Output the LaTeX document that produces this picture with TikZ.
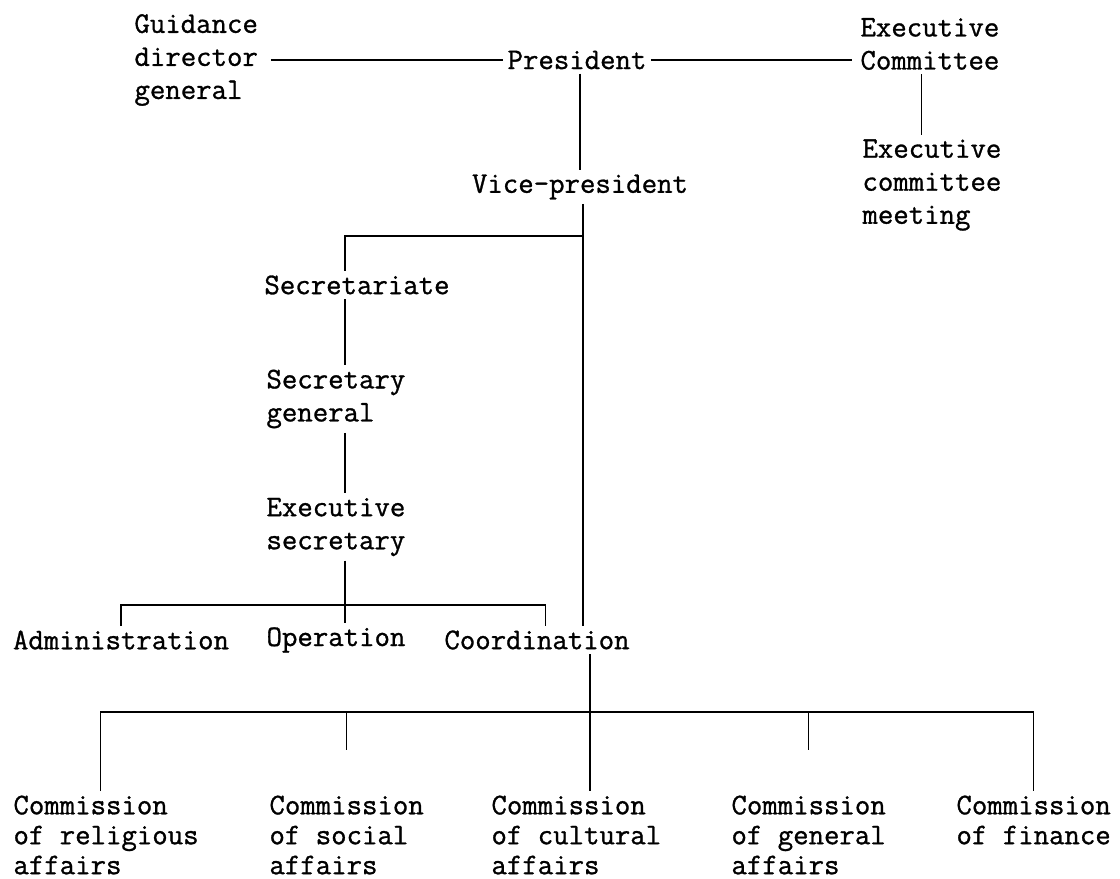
\documentclass[tikz,border=0pt]{standalone}
\usepackage{fontspec}
\setmonofont{Latin Modern Mono}[FakeBold=1]
\usepackage{tikz}
\usetikzlibrary{positioning}

\begin{document}
\begin{tikzpicture}[
    x=0.025cm, y=-0.025cm,
    post/.style={font=\ttfamily\fontsize{21.3}{23.5}\selectfont, align=left, inner sep=3pt},
    comm/.style={post, font=\ttfamily\fontsize{21.3}{21.3}\selectfont, anchor=west},
    link/.style={line width=0.9pt}
]
\fill[white] (0,0) rectangle (1120,879);
\useasboundingbox (0,0) rectangle (1120,879);

% Nodes
\node[post, anchor=west] (guid) at (130,60) {Guidance\\director\\general};
\node[post] (pres) at (577,60) {President};
\node[post, anchor=west] (excom) at (856,44) {Executive\\Committee};
\node[post, anchor=west] (exmeet) at (858,185) {Executive\\committee\\meeting};
\node[post] (vp) at (580,187) {Vice-president};
\node[post] (secr) at (357,285) {Secretariate};
\node[post, anchor=west] (secgen) at (262,399) {Secretary\\general};
\node[post, anchor=west] (exsec) at (262,527) {Executive\\secretary};
\node[post] (admin) at (121,640) {Administration};
\node[post] (oper) at (336,640) {Operation};
\node[post] (coord) at (537,640) {Coordination};
\node[comm] (comrel) at (9,835) {Commission\\of religious\\affairs};
\node[comm] (comsoc) at (265,835) {Commission\\of social\\affairs};
\node[comm] (comcul) at (487,835) {Commission\\of cultural\\affairs};
\node[comm] (comgen) at (727,835) {Commission\\of general\\affairs};
\node[comm] (comfin) at (952,820) {Commission\\of finance};

% Junctions
\coordinate (vpsplit) at (583,236);
\coordinate (seccol) at (345,0);
\coordinate (admsplit) at (345,605);
\coordinate (comsplit) at (590,712);

% Lines
\draw[link] ([xshift=6pt]guid.east |- pres) -- (pres.west);
\draw[link] (pres.east) -- ([xshift=-3pt]pres.east -| excom.west);
\draw[link] ([xshift=-6pt]excom.south) -- ([xshift=-6pt]excom.south |- exmeet.north);
\draw[link] (vp |- pres.south) -- (vp.north);
\draw[link] (vp.south -| vpsplit) -- (coord.north -| vpsplit);
\draw[link] (vpsplit) -| (secr.north -| seccol);
\draw[link] (secr.south -| seccol) -- (secgen.north -| seccol);
\draw[link] (secgen.south -| seccol) -- (exsec.north -| seccol);
\draw[link] (exsec.south -| seccol) -- (admsplit);
\draw[link] (admin.north) |- (admsplit) -| ([xshift=6pt]coord.north);
\draw[link] (admsplit) -- (oper.north -| admsplit);
\draw[link] (coord.south -| comsplit) -- (comcul.north -| comsplit);
\draw[link] ([xshift=-4pt]comrel.north) |- (comsplit) -| (comfin.north);
\draw[link] (comsoc.north |- comsplit) -- ([yshift=29pt]comsoc.north);
\draw[link] (comgen.north |- comsplit) -- ([yshift=29pt]comgen.north);

\end{tikzpicture}
\end{document}
